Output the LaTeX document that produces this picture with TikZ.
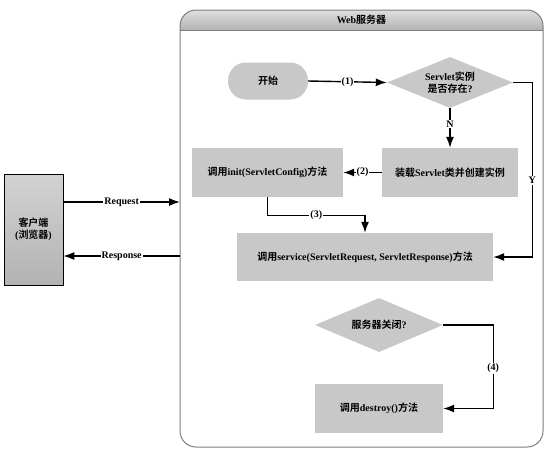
\documentclass[tikz,border=0pt]{standalone}
\usepackage{fontspec}
\setmainfont{Liberation Serif}
\newfontfamily\cjk[BoldFont={Noto Sans CJK SC Bold}]{Noto Sans CJK SC}
\newcommand{\cj}[1]{{\cjk\bfseries #1}}
\usetikzlibrary{shapes.geometric,arrows.meta,calc}
\definecolor{boxgray}{RGB}{200,200,200}
\definecolor{framegray}{RGB}{125,125,125}
\tikzset{
  every node/.style={font=\fontsize{10}{12}\selectfont\bfseries},
  procbox/.style={rectangle,fill=boxgray,inner sep=0pt,align=center},
  decision/.style={diamond,fill=boxgray,inner sep=0pt,align=center},
  startnode/.style={rectangle,rounded corners=18pt,fill=boxgray,inner sep=0pt},
  arr/.style={line width=1.4pt,-{Latex[length=11pt,width=8pt]}},
  lbl/.style={fill=white,inner sep=1pt}
}
\begin{document}
\begin{tikzpicture}[x=1pt,y=-1pt]
\useasboundingbox (0,0) rectangle (552,467);
% web server container
\begin{scope}
  \clip[rounded corners=16pt] (180,10) rectangle (543,447);
  \fill[white] (180,10) rectangle (543,447);
  \shade[top color=gray!25,bottom color=gray!60] (180,10) rectangle (543,30);
\end{scope}
\draw[framegray,line width=0.8pt] (180,30) -- (543,30);
\draw[framegray,line width=1pt,rounded corners=16pt] (180,10) rectangle (543,447);
\node (webtitle) at (361.5,20) {Web\cj{服务器}};

% client
\node[rectangle,draw=black,line width=0.6pt,top color=gray!35,bottom color=gray!60,
      minimum width=59pt,minimum height=111pt,inner sep=0pt,align=center]
      (client) at (33.5,229.5) {\cj{客户端}\\(\cj{浏览器})};

% flow nodes
\node[startnode,minimum width=80pt,minimum height=37pt] (start) at (268,81) {\cj{开始}};
\node[decision,minimum width=126pt,minimum height=51pt,aspect=2.47] (d1) at (450,82.5)
      {Servlet\cj{实例}\\\cj{是否存在}?};
\node[procbox,minimum width=136pt,minimum height=49pt] (load) at (450,172.5)
      {\cj{装载}Servlet\cj{类并创建实例}};
\node[procbox,minimum width=151pt,minimum height=49pt] (init) at (267.5,172.5)
      {\cj{调用}init(ServletConfig)\cj{方法}};
\node[procbox,minimum width=256pt,minimum height=48pt] (service) at (365,257)
      {\cj{调用}service(ServletRequest, ServletResponse)\cj{方法}};
\node[decision,minimum width=128pt,minimum height=54pt,aspect=2.37] (d2) at (379,325)
      {\cj{服务器关闭}?};
\node[procbox,minimum width=128pt,minimum height=49pt] (destroy) at (379,408.5)
      {\cj{调用}destroy()\cj{方法}};

% connectors
\coordinate (req) at (180,202);
\coordinate (resp) at (180,256);
\draw[arr] (client.east |- req) -- node[lbl]{Request} (req);
\draw[arr] (resp) -- node[lbl]{Response} (client.east |- resp);

\draw[arr] (start.east) -- node[lbl]{(1)} (d1.west);
\draw[arr] (d1.south) -- node[lbl,pos=0.4]{N} (load.north);
\draw[arr] (load.west) -- node[lbl]{(2)} (init.east);
\draw[arr] (init.south) -- ++(0,18) -| node[lbl,pos=0.25]{(3)} (service.north);
\coordinate (ycorner) at ($(service.east)+(39,0)$);
\draw[arr] (d1.east) -| node[lbl,pos=0.78]{Y} (ycorner) -- (service.east);
\coordinate (fcorner) at ($(destroy.east)+(50,0)$);
\draw[arr] (d2.east) -| node[lbl,pos=0.76]{(4)} (fcorner) -- (destroy.east);
\end{tikzpicture}
\end{document}
